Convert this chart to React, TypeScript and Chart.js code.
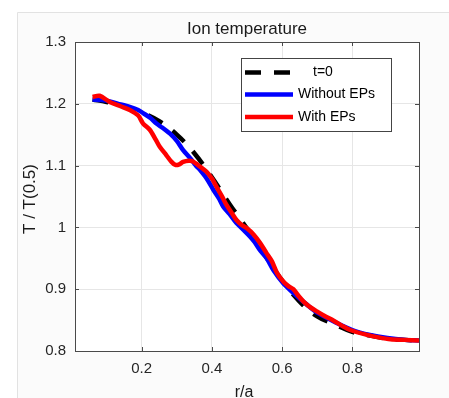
import React, { useEffect, useRef } from "react";
import { Chart, registerables } from "chart.js";

Chart.register(...registerables);

// ---- data ----
const t0X = [0.06, 0.10, 0.15, 0.20, 0.25, 0.30, 0.35, 0.40, 0.45, 0.50, 0.55, 0.60, 0.65, 0.70, 0.75, 0.80, 0.85, 0.90, 0.95, 0.99];
const t0Y = [1.207, 1.203, 1.196, 1.186, 1.172, 1.150, 1.120, 1.081, 1.038, 0.998, 0.956, 0.914, 0.880, 0.856, 0.843, 0.831, 0.825, 0.820, 0.818, 0.817];

const noEpX = [0.06, 0.085, 0.109, 0.14, 0.166, 0.19, 0.204, 0.225, 0.242, 0.26, 0.28, 0.30, 0.318, 0.338, 0.356, 0.366, 0.385, 0.404, 0.42, 0.432, 0.45, 0.47, 0.49, 0.509, 0.522, 0.537, 0.556, 0.575, 0.604, 0.63, 0.65, 0.675, 0.70, 0.75, 0.80, 0.85, 0.90, 0.95, 0.99];
const noEpY = [1.207, 1.206, 1.204, 1.199, 1.195, 1.190, 1.185, 1.177, 1.168, 1.161, 1.152, 1.140, 1.125, 1.112, 1.099, 1.093, 1.079, 1.061, 1.047, 1.034, 1.022, 1.007, 0.996, 0.985, 0.976, 0.963, 0.950, 0.931, 0.909, 0.895, 0.885, 0.873, 0.862, 0.847, 0.834, 0.826, 0.821, 0.818, 0.817];

const epX = [0.06, 0.08, 0.109, 0.14, 0.166, 0.19, 0.204, 0.223, 0.24, 0.251, 0.27, 0.285, 0.296, 0.307, 0.318, 0.334, 0.345, 0.36, 0.385, 0.40, 0.413, 0.428, 0.442, 0.457, 0.47, 0.485, 0.499, 0.518, 0.537, 0.556, 0.571, 0.585, 0.604, 0.618, 0.632, 0.647, 0.661, 0.68, 0.699, 0.72, 0.747, 0.77, 0.794, 0.842, 0.875, 0.909, 0.95, 0.99];
const epY = [1.211, 1.213, 1.203, 1.196, 1.190, 1.181, 1.168, 1.158, 1.142, 1.131, 1.117, 1.106, 1.101, 1.102, 1.106, 1.108, 1.107, 1.101, 1.090, 1.079, 1.066, 1.051, 1.036, 1.023, 1.012, 1.004, 0.999, 0.989, 0.975, 0.958, 0.945, 0.927, 0.912, 0.905, 0.900, 0.889, 0.880, 0.871, 0.864, 0.857, 0.849, 0.841, 0.834, 0.826, 0.822, 0.819, 0.818, 0.817];

const xTicks = [0.2, 0.4, 0.6, 0.8];
const xTickLabels = ["0.2", "0.4", "0.6", "0.8"];
const yTicks = [0.8, 0.9, 1.0, 1.1, 1.2, 1.3];
const yTickLabels = ["0.8", "0.9", "1", "1.1", "1.2", "1.3"];

const seriesNames = ["t=0", "Without EPs", "With EPs"];
const titleText = "Ion temperature";
const xLabel = "r/a";
const yLabel = "T / T(0.5)";

const FONT = "'Liberation Sans', Arial, Helvetica, sans-serif";

const toPts = (xs: number[], ys: number[]) => xs.map((x, i) => ({ x, y: ys[i] }));

const framePlugin = {
  id: "frame",
  beforeDraw(chart: any) {
    const { ctx, width, height } = chart;
    ctx.save();
    ctx.fillStyle = "#ffffff";
    ctx.fillRect(0, 0, width, height);
    ctx.fillStyle = "#fbfbfb";
    ctx.fillRect(17, 12, width - 17, height - 12);
    ctx.strokeStyle = "#e2e2e2";
    ctx.lineWidth = 1;
    ctx.beginPath();
    ctx.moveTo(17.5, height);
    ctx.lineTo(17.5, 12.5);
    ctx.lineTo(width, 12.5);
    ctx.stroke();
    const a = chart.chartArea;
    ctx.fillStyle = "#ffffff";
    ctx.fillRect(a.left, a.top, a.right - a.left, a.bottom - a.top);
    ctx.restore();
  },
  afterDraw(chart: any) {
    const { ctx } = chart;
    const a = chart.chartArea;
    const xs = chart.scales.x;
    const ys = chart.scales.y;
    ctx.save();
    // box
    ctx.strokeStyle = "#4a4a4a";
    ctx.lineWidth = 1;
    ctx.strokeRect(Math.round(a.left) + 0.5, Math.round(a.top) + 0.5, Math.round(a.right - a.left), Math.round(a.bottom - a.top));
    // inward ticks
    const tl = 4;
    ctx.beginPath();
    xTicks.forEach((v) => {
      const px = Math.round(xs.getPixelForValue(v)) + 0.5;
      ctx.moveTo(px, a.bottom);
      ctx.lineTo(px, a.bottom - tl);
      ctx.moveTo(px, a.top);
      ctx.lineTo(px, a.top + tl);
    });
    yTicks.forEach((v) => {
      const py = Math.round(ys.getPixelForValue(v)) + 0.5;
      ctx.moveTo(a.left, py);
      ctx.lineTo(a.left + tl, py);
      ctx.moveTo(a.right, py);
      ctx.lineTo(a.right - tl, py);
    });
    ctx.stroke();

    // title & axis labels
    ctx.fillStyle = "#1a1a1a";
    ctx.textAlign = "center";
    ctx.textBaseline = "middle";
    ctx.font = `17px ${FONT}`;
    ctx.fillText(titleText, (a.left + a.right) / 2, 29);
    ctx.font = `16px ${FONT}`;
    ctx.fillText(xLabel, 244, 393);
    ctx.save();
    ctx.translate(30, 199);
    ctx.rotate(-Math.PI / 2);
    ctx.font = `17px ${FONT}`;
    ctx.fillText(yLabel, 0, 0);
    ctx.restore();

    // legend
    const bx = 241, by = 58, bw = 150, bh = 73;
    ctx.fillStyle = "#ffffff";
    ctx.fillRect(bx, by, bw, bh);
    ctx.strokeStyle = "#444444";
    ctx.lineWidth = 1;
    ctx.strokeRect(bx + 0.5, by + 0.5, bw, bh);
    const rows = [72.5, 94.5, 117];
    const datasets = chart.data.datasets;
    ctx.font = `14px ${FONT}`;
    ctx.textBaseline = "middle";
    datasets.forEach((ds: any, i: number) => {
      const y = rows[i];
      ctx.save();
      ctx.strokeStyle = ds.borderColor;
      ctx.lineWidth = ds.borderWidth;
      ctx.setLineDash(ds.borderDash || []);
      ctx.lineCap = "butt";
      ctx.beginPath();
      ctx.moveTo(245, y);
      ctx.lineTo(293, y);
      ctx.stroke();
      ctx.restore();
      ctx.fillStyle = "#000000";
      ctx.textAlign = "left";
      ctx.fillText(ds.label, i === 0 ? 313 : 298, y);
    });
    ctx.restore();
  },
};

export default function App() {
  const ref = useRef<HTMLCanvasElement | null>(null);
  useEffect(() => {
    if (!ref.current) return;
    const chart = new Chart(ref.current, {
      type: "line",
      data: {
        datasets: [
          {
            label: seriesNames[0],
            data: toPts(t0X, t0Y),
            borderColor: "#000000",
            borderWidth: 4.5,
            borderDash: [16, 13],
            pointRadius: 0,
            tension: 0.4,
            order: 3,
          },
          {
            label: seriesNames[1],
            data: toPts(noEpX, noEpY),
            borderColor: "#0000ff",
            borderWidth: 4.5,
            pointRadius: 0,
            tension: 0.3,
            borderJoinStyle: "round",
            order: 2,
          },
          {
            label: seriesNames[2],
            data: toPts(epX, epY),
            borderColor: "#ff0000",
            borderWidth: 4.5,
            pointRadius: 0,
            tension: 0.3,
            borderJoinStyle: "round",
            order: 1,
          },
        ] as any,
      },
      options: {
        animation: false,
        responsive: false,
        devicePixelRatio: 1,
        layout: { padding: { left: 0, top: 42, right: 30, bottom: 0 } },
        plugins: { legend: { display: false }, tooltip: { enabled: false }, title: { display: false } },
        scales: {
          x: {
            type: "linear",
            min: 0.01,
            max: 0.99,
            afterBuildTicks: (s: any) => {
              s.ticks = xTicks.map((v) => ({ value: v }));
            },
            afterFit: (s: any) => {
              s.height = 47;
            },
            ticks: {
              padding: 9,
              color: "#262626",
              font: { family: FONT, size: 15 },
              callback: (v: any) => {
                const i = xTicks.findIndex((t) => Math.abs(t - v) < 1e-9);
                return i >= 0 ? xTickLabels[i] : "";
              },
            },
            grid: { color: "#e6e6e6", drawTicks: false },
            border: { display: false },
          },
          y: {
            type: "linear",
            min: 0.8,
            max: 1.3,
            afterBuildTicks: (s: any) => {
              s.ticks = yTicks.map((v) => ({ value: v }));
            },
            afterFit: (s: any) => {
              s.width = 75;
            },
            ticks: {
              padding: 9,
              color: "#262626",
              font: { family: FONT, size: 15 },
              callback: (v: any) => {
                const i = yTicks.findIndex((t) => Math.abs(t - v) < 1e-9);
                return i >= 0 ? yTickLabels[i] : "";
              },
            },
            grid: { color: "#e6e6e6", drawTicks: false },
            border: { display: false },
          },
        },
      },
      plugins: [framePlugin],
    });
    return () => chart.destroy();
  }, []);
  return (
    <div style={{ position: "fixed", left: 0, top: 0, width: 449, height: 398 }}>
      <canvas ref={ref} width={449} height={398} style={{ display: "block" }} />
    </div>
  );
}
